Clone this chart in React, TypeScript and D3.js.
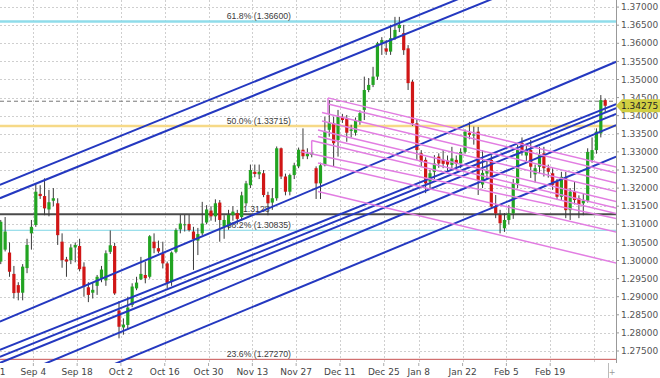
import React from "react";
import * as d3 from "d3";

// ---------- DATA ----------
const firstBar = 2;
const opens = [
  1.2997,1.3030,1.3022,1.2963,1.2932,1.2911,1.2979,1.3075,1.3098,1.3184,
  1.3178,1.3141,1.3165,1.3158,1.3052,1.3003,1.3001,1.3036,1.3040,1.2983,
  1.2926,1.2911,1.2930,1.2950,1.2945,1.3024,1.3040,1.2862,1.2815,1.2822,
  1.2877,1.2923,1.2948,1.2960,1.2955,1.3052,1.3034,1.3020,1.2992,1.2941,
  1.3024,1.3086,1.3098,1.3101,1.3080,1.3055,1.3075,1.3105,1.3138,1.3122,
  1.3160,1.3094,1.3094,1.3125,1.3131,1.3120,1.3158,1.3208,1.3245,1.3238,
  1.3241,1.3181,1.3160,1.3172,1.3310,1.3232,1.3190,1.3236,1.3260,1.3306,
  1.3288,1.3292,1.3255,1.3213,1.3263,1.3361,1.3379,1.3333,1.3397,1.3393,
  1.3358,1.3353,1.3383,1.3416,1.3471,1.3485,1.3508,1.3600,1.3586,1.3577,
  1.3614,1.3642,1.3628,1.3586,1.3494,1.3379,1.3296,1.3278,1.3218,1.3245,
  1.3287,1.3278,1.3276,1.3264,1.3278,1.3268,1.3300,1.3353,1.3345,1.3356,
  1.3210,1.3240,1.3278,1.3149,1.3126,1.3089,1.3112,1.3130,1.3213,1.3325,
  1.3290,1.3305,1.3238,1.3259,1.3296,1.3255,1.3241,1.3218,1.3176,1.3227,
  1.3139,1.3190,1.3172,1.3158,1.3165,1.3278,1.3305,1.3351,1.3443,
];
const highs = [
  1.3112,1.3120,1.3050,1.2985,1.2940,1.2990,1.3060,1.3112,1.3213,1.3208,
  1.3227,1.3195,1.3200,1.3172,1.3075,1.3010,1.3045,1.3050,1.3060,1.2995,
  1.2940,1.2940,1.2960,1.2985,1.3028,1.3083,1.3049,1.2888,1.2840,1.2900,
  1.2937,1.2955,1.3010,1.2997,1.3070,1.3075,1.3055,1.3052,1.2997,1.3025,
  1.3089,1.3126,1.3126,1.3126,1.3093,1.3090,1.3162,1.3153,1.3150,1.3169,
  1.3167,1.3125,1.3140,1.3150,1.3140,1.3190,1.3220,1.3265,1.3265,1.3265,
  1.3250,1.3190,1.3200,1.3315,1.3312,1.3240,1.3240,1.3270,1.3312,1.3365,
  1.3310,1.3305,1.3260,1.3270,1.3397,1.3443,1.3397,1.3416,1.3405,1.3402,
  1.3375,1.3395,1.3415,1.3508,1.3504,1.3535,1.3604,1.3617,1.3609,1.3651,
  1.3673,1.3673,1.3651,1.3595,1.3499,1.3390,1.3305,1.3285,1.3250,1.3291,
  1.3296,1.3305,1.3290,1.3314,1.3290,1.3310,1.3362,1.3383,1.3370,1.3369,
  1.3305,1.3275,1.3291,1.3181,1.3140,1.3131,1.3153,1.3225,1.3319,1.3340,
  1.3320,1.3333,1.3265,1.3314,1.3314,1.3265,1.3255,1.3225,1.3245,1.3245,
  1.3200,1.3217,1.3180,1.3185,1.3310,1.3340,1.3365,1.3457,1.3447,
];
const lows = [
  1.2990,1.3025,1.2955,1.2895,1.2890,1.2890,1.2965,1.3030,1.3093,1.3170,
  1.3125,1.3122,1.3150,1.3043,1.2980,1.2955,1.2990,1.2995,1.2970,1.2900,
  1.2885,1.2895,1.2905,1.2940,1.2930,1.3018,1.2905,1.2785,1.2795,1.2808,
  1.2871,1.2918,1.2946,1.2937,1.2950,1.3020,1.3020,1.2978,1.2923,1.2930,
  1.3020,1.3075,1.3080,1.3080,1.2974,1.3015,1.3070,1.3100,1.3110,1.3107,
  1.3052,1.3060,1.3085,1.3110,1.3100,1.3110,1.3150,1.3200,1.3230,1.3225,
  1.3175,1.3125,1.3140,1.3165,1.3225,1.3180,1.3180,1.3225,1.3255,1.3280,
  1.3280,1.3285,1.3170,1.3170,1.3260,1.3342,1.3259,1.3287,1.3380,1.3328,
  1.3340,1.3345,1.3375,1.3388,1.3465,1.3479,1.3499,1.3568,1.3568,1.3568,
  1.3609,1.3631,1.3568,1.3471,1.3372,1.3278,1.3260,1.3186,1.3200,1.3225,
  1.3256,1.3255,1.3245,1.3250,1.3250,1.3255,1.3295,1.3335,1.3320,1.3181,
  1.3200,1.3225,1.3145,1.3117,1.3075,1.3079,1.3100,1.3115,1.3200,1.3290,
  1.3270,1.3228,1.3215,1.3240,1.3232,1.3229,1.3195,1.3167,1.3167,1.3117,
  1.3112,1.3155,1.3117,1.3125,1.3160,1.3270,1.3295,1.3340,1.3410,
];
const closes = [
  1.3107,1.3080,1.2969,1.2910,1.2911,1.2983,1.3043,1.3093,1.3190,1.3178,
  1.3144,1.3161,1.3172,1.3070,1.3001,1.2997,1.3036,1.3043,1.2976,1.2928,
  1.2905,1.2919,1.2955,1.2975,1.3020,1.3042,1.2909,1.2817,1.2823,1.2870,
  1.2928,1.2939,1.2963,1.2951,1.3067,1.3034,1.3025,1.2992,1.2937,1.3022,
  1.3084,1.3102,1.3100,1.3084,1.3059,1.3073,1.3102,1.3141,1.3122,1.3158,
  1.3112,1.3112,1.3126,1.3135,1.3115,1.3180,1.3213,1.3250,1.3239,1.3245,
  1.3181,1.3158,1.3172,1.3310,1.3232,1.3190,1.3236,1.3263,1.3306,1.3288,
  1.3295,1.3298,1.3213,1.3263,1.3356,1.3380,1.3324,1.3397,1.3388,1.3353,
  1.3362,1.3388,1.3407,1.3471,1.3485,1.3508,1.3600,1.3609,1.3577,1.3614,
  1.3637,1.3651,1.3581,1.3490,1.3379,1.3305,1.3273,1.3213,1.3241,1.3268,
  1.3268,1.3267,1.3265,1.3282,1.3267,1.3300,1.3356,1.3347,1.3348,1.3222,
  1.3242,1.3250,1.3149,1.3130,1.3103,1.3112,1.3130,1.3213,1.3305,1.3300,
  1.3305,1.3259,1.3255,1.3291,1.3255,1.3245,1.3209,1.3176,1.3231,1.3139,
  1.3190,1.3167,1.3155,1.3165,1.3300,1.3305,1.3356,1.3443,1.34275,
];

const xTickBars = [0, 10, 20, 30, 40, 50, 60, 70, 80, 90, 98, 108, 118, 128];
const xTickLabels = ["Aug 21", "Sep 4", "Sep 18", "Oct 2", "Oct 16", "Oct 30", "Nov 13", "Nov 27", "Dec 11", "Dec 25", "Jan 8", "Jan 22", "Feb 5", "Feb 19"];
const xGridOnlyBars = [138];

const yTickLabels = [
  "1.27500","1.28000","1.28500","1.29000","1.29500","1.30000","1.30500","1.31000","1.31500","1.32000",
  "1.32500","1.33000","1.33500","1.34000","1.34500","1.35000","1.35500","1.36000","1.36500","1.37000",
];

const fibValues = [1.366, 1.33715, 1.30835, 1.2727];
const fibLabels = ["61.8% (1.36600)", "50.0% (1.33715)", "38.2% (1.30835)", "23.6% (1.27270)"];
const supportValue = 1.3128;
const supportLabel = "1.3128";
const lastPrice = 1.34275;
const lastPriceLabel = "1.34275";
const askValue = 1.3440;

// trend lines: [bar1, price1, bar2, price2]
const blueLines = [
  [1.8, 1.3209, 142.5, 1.3899],
  [1.8, 1.3172, 142.5, 1.3861],
  [1.8, 1.2831, 142.5, 1.3549],
  [1.8, 1.2753, 142.5, 1.3432],
  [1.8, 1.2734, 142.5, 1.3421],
  [1.8, 1.2717, 142.5, 1.3405],
  [1.8, 1.2663, 142.5, 1.3374],
  [1.8, 1.2583, 142.5, 1.3287],
];
const pinkLines = [
  [76.71, 1.34492, 142.5, 1.32583],
  [76.71, 1.34326, 142.5, 1.32417],
  [75.34, 1.34091, 142.5, 1.32141],
  [75.34, 1.33854, 142.5, 1.31906],
  [74.43, 1.33605, 142.5, 1.31630],
  [74.43, 1.33425, 142.5, 1.31450],
  [72.99, 1.33315, 142.5, 1.31298],
  [70.71, 1.33006, 142.5, 1.31160],
  [74.43, 1.32693, 142.5, 1.30787],
  [74.43, 1.31906, 142.5, 1.29931],
  [76.71, 1.34492, 76.71, 1.34050],
  [72.99, 1.33315, 72.99, 1.32960],
];

// ---------- CHART ----------
const W = 660;
const H = 378;
const plotRight = 616;
const plotBottom = 363;

export default function App() {
  const x = d3.scaleLinear().domain([10, 140]).range([35.8, 605.2]);
  const y = d3.scaleLinear().domain([1.275, 1.37]).range([351, 7.1]);
  const gridX = (b: number) => x(b - 0.56);

  const bars = opens.map((o, k) => ({
    i: firstBar + k,
    o,
    h: highs[k],
    l: lows[k],
    c: closes[k],
  }));

  const yTicks = yTickLabels.map((t) => ({ v: parseFloat(t), t }));
  const fibStyle = [
    { stroke: "#8fdcea", w: 2.5 },
    { stroke: "#f6d987", w: 2.5 },
    { stroke: "#7fd6e6", w: 1 },
    { stroke: "#c85050", w: 1 },
  ];
  const line = d3.line<number[]>().x((d) => x(d[0])).y((d) => y(d[1]));
  const font = "'DejaVu Sans', Verdana, sans-serif";
  const fibFont = "'Liberation Sans', Arial, sans-serif";
  const yl = y(lastPrice);

  return (
    <svg
      width={W}
      height={H}
      style={{ position: "fixed", left: 0, top: 0, background: "#fff" }}
    >
      <defs>
        <clipPath id="plot">
          <rect x={0} y={0} width={plotRight} height={plotBottom} />
        </clipPath>
      </defs>
      <rect x={0} y={0} width={W} height={H} fill="#fff" />

      {/* grid */}
      <g stroke="#cfcfcf" strokeDasharray="2,2" strokeWidth={1}>
        {yTicks.map((d) => (
          <line key={d.t} x1={0} x2={plotRight} y1={Math.round(y(d.v)) + 0.5} y2={Math.round(y(d.v)) + 0.5} />
        ))}
        {[...xTickBars, ...xGridOnlyBars].map((b) => (
          <line key={b} x1={Math.round(gridX(b)) + 0.5} x2={Math.round(gridX(b)) + 0.5} y1={0} y2={plotBottom} />
        ))}
      </g>

      <g clipPath="url(#plot)">
        {/* fib levels */}
        {fibValues.map((v, k) => (
          <line key={v} x1={0} x2={plotRight} y1={y(v)} y2={y(v)} stroke={fibStyle[k].stroke} strokeWidth={fibStyle[k].w} />
        ))}
        <line x1={0} x2={plotRight} y1={y(supportValue)} y2={y(supportValue)} stroke="#4a4a4a" strokeWidth={2} />
        <line x1={0} x2={plotRight} y1={y(askValue)} y2={y(askValue)} stroke="#777" strokeWidth={1} strokeDasharray="4,3" />
        {fibLabels.map((t, k) => (
          <text key={t} x={x(53.6)} y={y(fibValues[k]) - 2.5} fontFamily={fibFont} fontSize={8.7} fill="#3c3c3c">
            {t}
          </text>
        ))}
        <text x={x(57.3)} y={y(supportValue) - 2.5} fontFamily={fibFont} fontSize={8.7} fill="#3c3c3c">
          {supportLabel}
        </text>

        {/* candles */}
        {bars.map((d) => {
          const up = d.c >= d.o;
          const top = y(Math.max(d.o, d.c));
          const bot = y(Math.min(d.o, d.c));
          const cx = x(d.i);
          return (
            <g key={d.i}>
              <line x1={cx} x2={cx} y1={y(d.h)} y2={y(d.l)} stroke="#3a3a3a" strokeWidth={1} />
              <rect
                x={cx - 1.6}
                y={top}
                width={3.2}
                height={Math.max(1, bot - top)}
                fill={up ? "#22a422" : "#d01616"}
              />
            </g>
          );
        })}

        {/* trend lines */}
        {blueLines.map((l, k) => (
          <path key={k} d={line([[l[0], l[1]], [l[2], l[3]]]) || ""} stroke="#2438c0" strokeWidth={2} fill="none" />
        ))}
        {pinkLines.map((l, k) => (
          <path key={k} d={line([[l[0], l[1]], [l[2], l[3]]]) || ""} stroke="#e27de2" strokeWidth={1.5} fill="none" />
        ))}
      </g>

      {/* y axis */}
      <line x1={plotRight + 0.5} x2={plotRight + 0.5} y1={0} y2={plotBottom} stroke="#999" />
      {yTicks.map((d) => (
        <g key={d.t}>
          <line x1={plotRight} x2={plotRight + 3} y1={y(d.v)} y2={y(d.v)} stroke="#999" />
          <text x={621} y={y(d.v)} dy="0.35em" fontFamily={font} fontSize={9} fill="#555">
            {d.t}
          </text>
        </g>
      ))}
      {/* last price box */}
      <path
        d={`M${plotRight},${yl} L${plotRight + 6},${yl - 6.5} L${W},${yl - 6.5} L${W},${yl + 6.5} L${plotRight + 6},${yl + 6.5} Z`}
        fill="#d1cf42"
      />
      <text x={621} y={yl} dy="0.35em" fontFamily={font} fontSize={9} fill="#222">
        {lastPriceLabel}
      </text>

      {/* x axis */}
      {xTickBars.map((b, k) => (
        <g key={b}>
          <line x1={gridX(b)} x2={gridX(b)} y1={plotBottom} y2={plotBottom + 3} stroke="#aaa" />
          <text x={gridX(b)} y={375} textAnchor="middle" fontFamily={font} fontSize={9} fill="#444">
            {xTickLabels[k]}
          </text>
        </g>
      ))}
      <line x1={608.5} x2={608.5} y1={plotBottom} y2={H} stroke="#bbb" />
      <text x={612} y={375} textAnchor="middle" fontFamily={font} fontSize={8} fill="#999">
        +
      </text>
    </svg>
  );
}
